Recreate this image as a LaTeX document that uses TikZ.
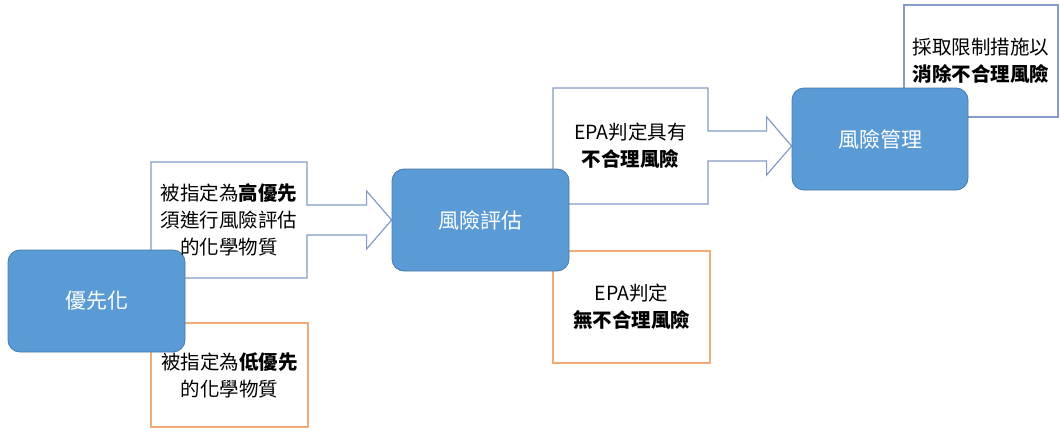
\documentclass[tikz,border=0pt]{standalone}
\usepackage{fontspec}
\setmainfont{Noto Sans CJK TC}
\usepackage{xcolor}
\usetikzlibrary{calc, backgrounds}
\definecolor{stageblue}{RGB}{91,155,213}
\definecolor{stageedge}{RGB}{70,120,170}
\definecolor{noteblue}{RGB}{132,156,198}
\definecolor{noteorange}{RGB}{241,170,120}
\newcommand{\arrownote}[2]{%
  \coordinate (tip) at (#1 -| #2.west);
  \draw[noteline, draw=noteblue] ($(#1.east)+(0,-15)$) -- (#1.north east) -- (#1.north west)
    -- (#1.south west) -- (#1.south east) -- ($(#1.east)+(0,15)$) -- ($(tip)+(-25,15)$)
    -- ($(tip)+(-25,29)$) -- (tip) -- ($(tip)+(-25,-29)$) -- ($(tip)+(-25,-15)$) -- cycle;}

\begin{document}
\begin{tikzpicture}[x=1pt, y=-1pt,
      every node/.style={font=\fontsize{19.5}{27}\selectfont},
      stage/.style={draw=stageedge, line width=0.8pt, fill=stageblue, rounded corners=12pt,
                    minimum width=177pt, minimum height=102pt, text=white,
                    font=\fontsize{21}{26}\selectfont},
      note/.style={rectangle, align=center, inner sep=0pt, outer sep=0pt},
      noteline/.style={line width=1.2pt, fill=white}]
    \useasboundingbox (0,0) rectangle (1060,439);
    % notes without arrows
    \node[note, noteline, draw=noteorange, minimum width=157pt, minimum height=104pt] (low) at (229.5,375)
      {被指定為\textbf{低優先}\\的化學物質};
    \node[note, noteline, draw=noteorange, minimum width=157pt, minimum height=112pt] (no) at (631.5,307)
      {EPA判定\\\textbf{無不合理風險}};
    \node[note, noteline, draw=noteblue, minimum width=154pt, minimum height=112pt] (act) at (981,61)
      {採取限制措施以\\\textbf{消除不合理風險}};
    % stages
    \node[stage] (prio) at (96.5,301) {優先化};
    \node[stage] (assess) at (480.5,220) {風險評估};
    \node[stage, minimum width=176pt] (mgmt) at (880,139) {風險管理};
    % notes with arrows
    \node[note, minimum width=156pt, minimum height=116pt] (high) at (229,220)
      {被指定為\textbf{高優先}\\須進行風險評估\\的化學物質};
    \node[note, minimum width=155pt, minimum height=116pt] (yes) at (630.5,146)
      {EPA判定具有\\\textbf{不合理風險}};
    \begin{scope}[on background layer]
      \arrownote{high}{assess}
      \arrownote{yes}{mgmt}
    \end{scope}
  \end{tikzpicture}
\end{document}
